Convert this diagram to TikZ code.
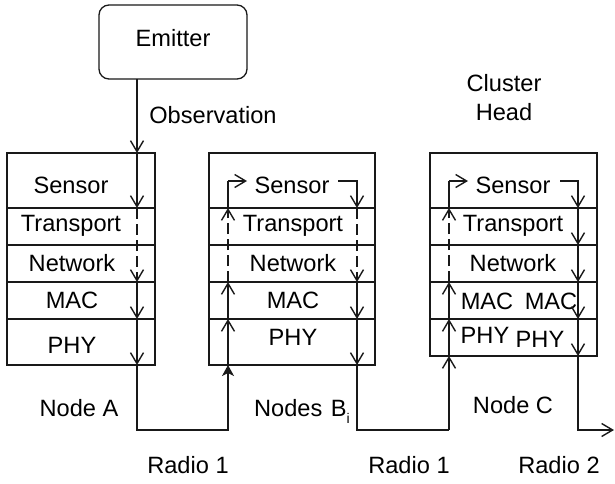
\documentclass[tikz,border=0pt]{standalone}
\usepackage{fontspec}
\setmainfont{Liberation Sans}
\usetikzlibrary{arrows.meta}
\tikzset{
  x=1pt,y=-1pt,
  lbl/.style={font=\fontsize{23.6}{26}\selectfont,inner sep=0pt,text=black},
  box/.style={draw=black!90,line width=1.3pt},
  wire/.style={draw=black!90,line width=1.4pt},
  dn/.style={wire,-{Straight Barb[length=11pt,width=13pt,line width=1.4pt]}},
  dsh/.style={dn,dash pattern=on 11pt off 5pt},
  solidtip/.style={wire,-{Stealth[length=11pt,width=12pt,inset=3pt]}}
}
\begin{document}
\begin{tikzpicture}
\useasboundingbox (0,0) rectangle (615,483);
% Stacks
\foreach \l/\r/\b/\n in {7/155/365/A,209/375/365/B,430/597/356/C}{
  \draw[box] (\l,153) rectangle (\r,\b);
  \foreach \y in {208,245,282,319}{\draw[box] (\l,\y) -- (\r,\y);}
}
% Emitter
\draw[box,rounded corners=10pt] (99,5) rectangle (247,79);
\node[lbl] (emittxt) at (173,38) {Emitter};
% Labels
\node[lbl] (obs) at (213,115) {Observation};
\node[lbl] at (71,185) {Sensor};
\node[lbl] at (71,226) {Transport};
\node[lbl] at (72,263) {Network};
\node[lbl] at (72,300) {MAC};
\node[lbl] at (72,345) {PHY};
\node[lbl] at (79,408) {Node A};
\node[lbl] at (292,185) {Sensor};
\node[lbl] at (293,226) {Transport};
\node[lbl] at (293,263) {Network};
\node[lbl] at (293,300) {MAC};
\node[lbl] at (293,337) {PHY};
\node[lbl,anchor=base west] at (254,416) {Nodes\hspace{2pt} B\raisebox{-7pt}{\fontsize{14}{14}\selectfont i}};
\node[lbl] at (513,185) {Sensor};
\node[lbl] at (513,226) {Transport};
\node[lbl] at (513,263) {Network};
\node[lbl] at (487,301) {MAC};
\node[lbl] at (551,301) {MAC};
\node[lbl] at (485,335) {PHY};
\node[lbl] at (540,339) {PHY};
\node[lbl] at (513,405) {Node C};
\node[lbl] at (504,83) {Cluster};
\node[lbl] at (504,112) {Head};
\node[lbl] at (188,465) {Radio 1};
\node[lbl] at (409,465) {Radio 1};
\node[lbl] at (559,465) {Radio 2};
% Node A path
\coordinate (e) at (137,79);
\draw[dn] (e) -- (137,153);
\draw[dn] (137,153) -- (137,208);
\draw[dsh] (137,208) -- (137,282);
\draw[dn] (137,282) -- (137,319);
\draw[dn] (137,319) -- (137,365);
\draw[solidtip] (137,365) -- (137,430) -- (228,430) -- (228,365);
% Node B up
\draw[dn] (228,365) -- (228,319);
\draw[dn] (228,319) -- (228,282);
\draw[dsh] (228,282) -- (228,208);
\draw[wire] (228,208) -- (228,181);
\draw[dn] (228,181) -- (247,181);
% Node B down
\draw[dn] (338,181) -- (357,181) -- (357,208);
\draw[dsh] (357,208) -- (357,282);
\draw[dn] (357,282) -- (357,319);
\draw[dn] (357,319) -- (357,365);
\draw[wire] (357,365) -- (357,430) -- (449,430);
\draw[dn] (449,430) -- (449,356);
% Node C up
\draw[dn] (449,356) -- (449,319);
\draw[dn] (449,319) -- (449,282);
\draw[dsh] (449,282) -- (449,208);
\draw[wire] (449,208) -- (449,181);
\draw[dn] (449,181) -- (468,181);
% Node C down
\draw[dn] (560,181) -- (578,181) -- (578,208);
\draw[dn] (578,208) -- (578,245);
\draw[dn] (578,245) -- (578,282);
\draw[dn] (578,282) -- (578,319);
\draw[dn] (578,319) -- (578,356);
\draw[dn] (578,356) -- (578,430) -- (614,430);
\end{tikzpicture}
\end{document}
